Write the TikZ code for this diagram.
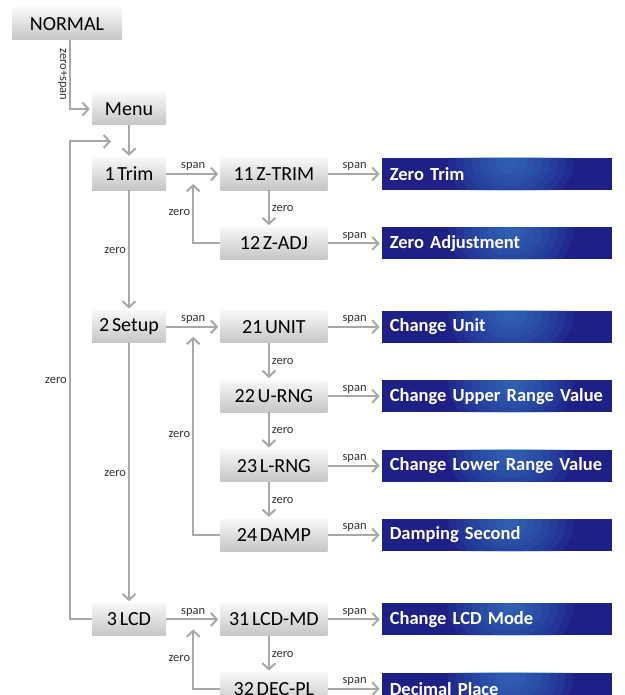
\documentclass[tikz,border=0pt]{standalone}
\usepackage{fontspec}
\setmainfont{Carlito}[WordSpace=0.6, BoldFeatures={WordSpace=0.55}]
\usetikzlibrary{positioning,arrows.meta,calc}
\definecolor{linegray}{HTML}{A8A8A8}
\definecolor{navy}{HTML}{1E2086}
\definecolor{glow}{HTML}{3F8AD0}

\begin{document}
\begin{tikzpicture}[
  x=1pt, y=-1pt,
  node distance=54pt,
  menu/.style={minimum height=32pt, inner sep=0pt, font=\fontsize{20}{20}\selectfont, top color=gray!6, bottom color=gray!45},
  sub/.style={menu, minimum width=74pt},
  item/.style={menu, minimum width=107pt},
  func/.style={minimum height=32pt, inner xsep=8pt, inner ysep=0pt, text width=214pt, align=left, fill=navy, text=white,
    font=\fontsize{18.5}{19}\selectfont\bfseries,
    path picture={\foreach \r in {6,12,...,48}
      \fill[glow, opacity=0.11] ([xshift=14pt,yshift=-4pt]path picture bounding box.north) ellipse ({1.3*\r} and \r);}},
  lbl/.style={font=\fontsize{12.5}{12.5}\selectfont, text=black!80, inner sep=2pt},
  flow/.style={draw=linegray, line width=2pt, -{Straight Barb[length=6pt,width=13pt]}, shorten >=2pt},
]
\useasboundingbox (0,0) rectangle (624,695);

% left column
\node[menu, minimum width=110pt] (normal) at (67,24) {NORMAL};
\node[sub] (menu) at (129,109) {Menu};
\node[sub] (trim) at (129,174) {1 Trim};

% menu items and functions
\node[item, right=of trim] (ztrim) {11 Z-TRIM};
\node[func, right=of ztrim] (fztrim) {Zero Trim};
\node[item, below=37pt of ztrim] (zadj) {12 Z-ADJ};
\node[func, right=of zadj] (fzadj) {Zero Adjustment};

\node[item, below=51pt of zadj] (unit) {21 UNIT};
\node[sub, left=of unit] (setup) {2 Setup};
\node[func, right=of unit] (funit) {Change Unit};
\node[item, below=37pt of unit] (urng) {22 U-RNG};
\node[func, right=of urng] (furng) {Change Upper Range Value};
\node[item, below=37pt of urng] (lrng) {23 L-RNG};
\node[func, right=of lrng] (flrng) {Change Lower Range Value};
\node[item, below=37pt of lrng] (damp) {24 DAMP};
\node[func, right=of damp] (fdamp) {Damping Second};

\node[item, below=52pt of damp] (lcdmd) {31 LCD-MD};
\node[sub, left=of lcdmd] (lcd) {3 LCD};
\node[func, right=of lcdmd] (flcdmd) {Change LCD Mode};
\node[item, below=37pt of lcdmd] (decpl) {32 DEC-PL};
\node[func, right=of decpl] (fdecpl) {Decimal Place};

\coordinate (back) at ([xshift=-16pt]$(menu.south)!.5!(trim.north)$);

% connectors
\draw[flow] ([xshift=3pt]normal.south) |- node[lbl, pos=0.25, rotate=-90, anchor=north] {zero+span} (menu.west);
\draw[flow] (menu) -- (trim);
\draw[flow] (lcd.west) -- ++(-22,0) |- node[lbl, pos=0.25, left] {zero} (back);
\draw[flow] (trim) -- node[lbl, left] {zero} (setup);
\draw[flow] (setup) -- node[lbl, left] {zero} (lcd);

\foreach \a/\b in {trim/ztrim, setup/unit, lcd/lcdmd,
  ztrim/fztrim, zadj/fzadj, unit/funit, urng/furng, lrng/flrng, damp/fdamp, lcdmd/flcdmd, decpl/fdecpl}
  \draw[flow] (\a) -- node[lbl, above] {span} (\b);

\foreach \a/\b in {ztrim/zadj, unit/urng, urng/lrng, lrng/damp, lcdmd/decpl}
  \draw[flow] ([xshift=-5pt]\a.south) -- node[lbl, right] {zero} ([xshift=-5pt]\b.north);

\draw[flow] (zadj.west) -| node[lbl, pos=0.75, left] {zero} ([shift={(-27pt,-8pt)}]ztrim.west);
\draw[flow] (damp.west) -| node[lbl, pos=0.75, left] {zero} ([shift={(-27pt,-8pt)}]unit.west);
\draw[flow] (decpl.west) -| node[lbl, pos=0.75, left] {zero} ([shift={(-27pt,-8pt)}]lcdmd.west);
\end{tikzpicture}
\end{document}
